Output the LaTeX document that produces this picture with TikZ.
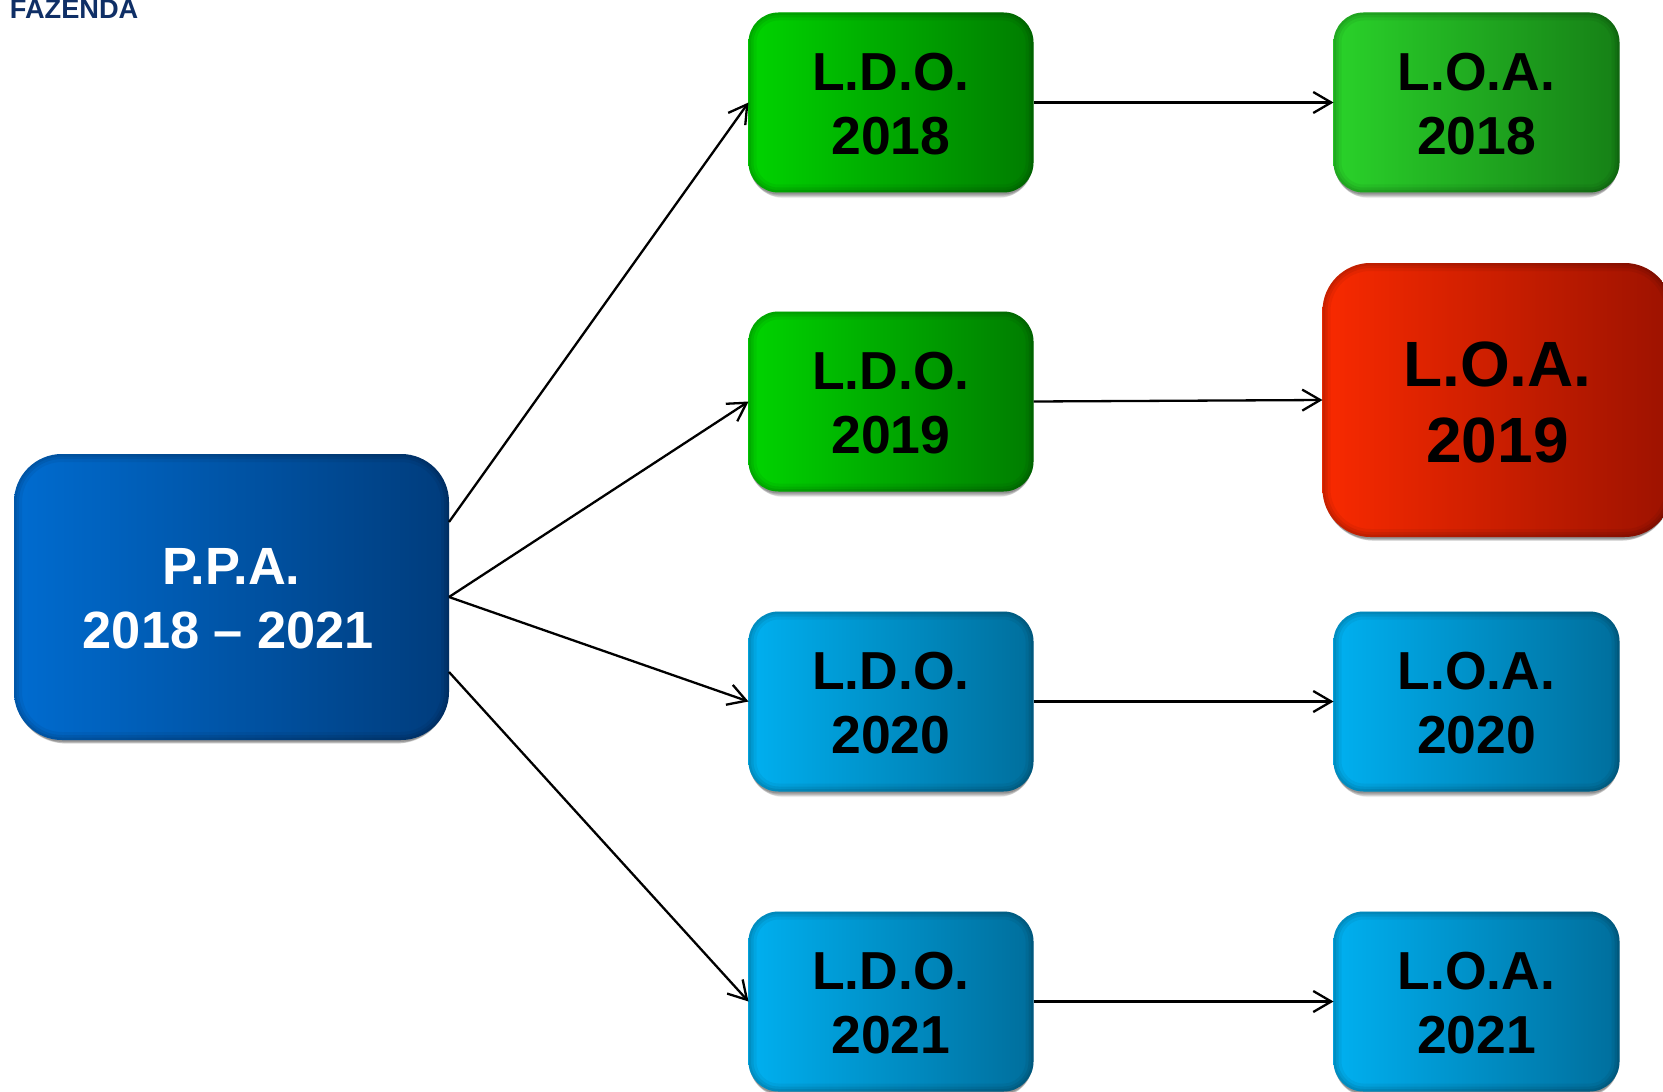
\documentclass[tikz,border=0pt]{standalone}
\usepackage{fontspec}
\setmainfont{Liberation Sans}
\usetikzlibrary{arrows.meta,shadows,calc}
\definecolor{navy}{HTML}{0F2F66}
\newcommand{\liftS}{\rule{0pt}{20pt}}
\newcommand{\liftR}{\rule{0pt}{25pt}}
\tikzset{
  softshadow/.style={
    drop shadow={shadow xshift=0pt,shadow yshift=-4.5pt,shadow scale=.965,opacity=.05,fill=black},
    drop shadow={shadow xshift=0pt,shadow yshift=-3.6pt,shadow scale=.975,opacity=.08,fill=black},
    drop shadow={shadow xshift=0pt,shadow yshift=-2.8pt,shadow scale=.985,opacity=.10,fill=black},
    drop shadow={shadow xshift=0pt,shadow yshift=-2pt,shadow scale=.99,opacity=.13,fill=black},
    drop shadow={shadow xshift=0pt,shadow yshift=-1.2pt,shadow scale=.995,opacity=.16,fill=black}},
  gbox/.style n args={3}{rectangle,rounded corners=#1,left color=#2,right color=#3,
    softshadow,inner sep=0pt,outer sep=0pt,align=center,text=black,
    path picture={
      \draw[black,opacity=.05,line width=8pt,rounded corners=#1]
        (path picture bounding box.south west) rectangle (path picture bounding box.north east);
      \draw[black,opacity=.07,line width=5pt,rounded corners=#1]
        (path picture bounding box.south west) rectangle (path picture bounding box.north east);
      \draw[black,opacity=.08,line width=2.5pt,rounded corners=#1]
        (path picture bounding box.south west) rectangle (path picture bounding box.north east);
    }},
  smalltext/.style={font=\fontsize{26.75}{32}\selectfont\bfseries},
  ldobox/.style n args={2}{gbox={15pt}{#1}{#2},minimum width=142.5pt,minimum height=90pt,smalltext},
  loabox/.style n args={2}{gbox={15pt}{#1}{#2},minimum width=143pt,minimum height=90pt,smalltext},
  ppabox/.style={gbox={24pt}{ppaL}{ppaR},minimum width=217.5pt,minimum height=143pt,
    font=\fontsize{26.2}{32}\selectfont\bfseries,text=white},
  redbox/.style={gbox={24pt}{redL}{redR},minimum width=175pt,minimum height=137pt,
    font=\fontsize{32}{38}\selectfont\bfseries},
  link/.style={draw=black,line width=1.15pt,-{Straight Barb[length=9pt,width=10.5pt,line width=1.15pt]}},
  plain/.style={font=\fontsize{13.6}{15}\selectfont\bfseries,text=navy,inner sep=0pt,anchor=base west}
}
\definecolor{ppaL}{HTML}{006CD0}\definecolor{ppaR}{HTML}{003C7C}
\definecolor{grnL}{HTML}{00D400}\definecolor{grnR}{HTML}{007C00}
\definecolor{lgrL}{HTML}{2AD22A}\definecolor{lgrR}{HTML}{168016}
\definecolor{bluL}{HTML}{00B0F0}\definecolor{bluR}{HTML}{006E9C}
\definecolor{redL}{HTML}{F92A00}\definecolor{redR}{HTML}{9C1200}
\begin{document}
\begin{tikzpicture}[x=.5pt,y=-.5pt]
\useasboundingbox (0,0) rectangle (1663,1091);
\clip (0,0) rectangle (1663,1091);
\fill[white] (0,0) rectangle (1663,1091);
\node[plain] (logo) at (9.5,18.5) {FAZENDA};
\node[ppabox] (ppa) at (231.5,597) {\liftS P.P.A.\\2018 – 2021\hspace*{3pt}};
\node[ldobox={grnL}{grnR}] (ldoA) at (891,102.5) {\liftS L.D.O.\\2018};
\node[ldobox={grnL}{grnR}] (ldoB) at (891,401.5) {\liftS L.D.O.\\2019};
\node[ldobox={bluL}{bluR}] (ldoC) at (891,701.5) {\liftS L.D.O.\\2020};
\node[ldobox={bluL}{bluR}] (ldoD) at (891,1001.5) {\liftS L.D.O.\\2021};
\node[loabox={lgrL}{lgrR}] (loaA) at (1476.5,102.5) {\liftS L.O.A.\\2018};
\node[redbox] (loaB) at (1497.5,400) {\liftR L.O.A.\\2019};
\node[loabox={bluL}{bluR}] (loaC) at (1476.5,701.5) {\liftS L.O.A.\\2020};
\node[loabox={bluL}{bluR}] (loaD) at (1476.5,1001.5) {\liftS L.O.A.\\2021};
\coordinate (ppaUp) at ($(ppa.east)+(0,-75)$);
\coordinate (ppaDn) at ($(ppa.east)+(0,75)$);
\draw[link] (ppaUp) -- (ldoA.west);
\draw[link] (ppa.east) -- (ldoB.west);
\draw[link] (ppa.east) -- (ldoC.west);
\draw[link] (ppaDn) -- (ldoD.west);
\draw[link] (ldoA.east) -- (loaA.west);
\draw[link] (ldoB.east) -- (loaB.west);
\draw[link] (ldoC.east) -- (loaC.west);
\draw[link] (ldoD.east) -- (loaD.west);
\end{tikzpicture}
\end{document}
